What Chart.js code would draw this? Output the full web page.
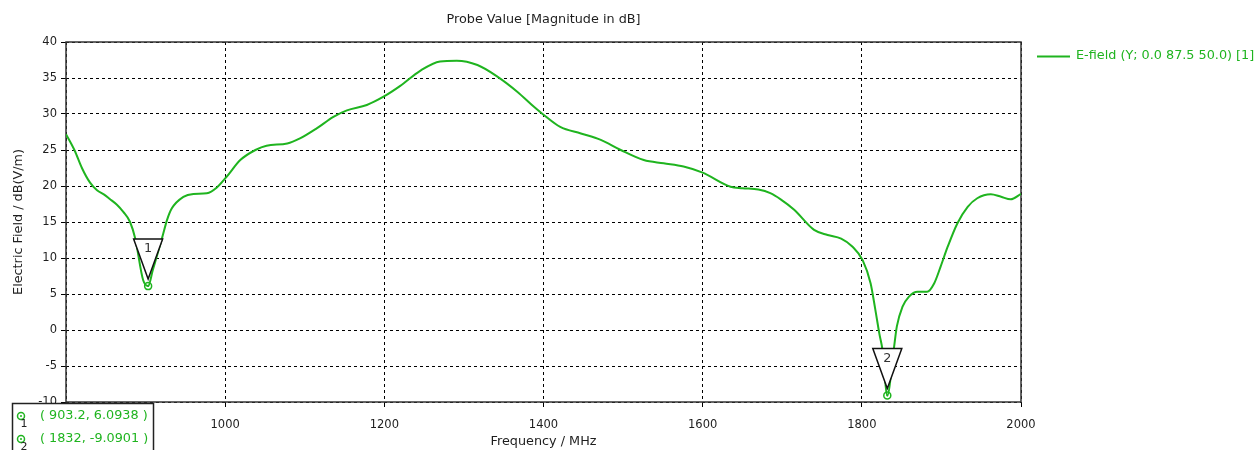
<!DOCTYPE html>
<html><head><meta charset="utf-8">
<script src="https://cdn.jsdelivr.net/npm/chart.js@4/dist/chart.umd.min.js"></script>
<style>html,body{margin:0;padding:0;background:#fff;} canvas{display:block;}</style>
</head><body>
<canvas id="c" width="1259" height="450"></canvas>
<script>
const chartTitle = 'Probe Value [Magnitude in dB]';
const seriesLabel = 'E-field (Y; 0.0 87.5 50.0) [1]';
const xAxisTitle = 'Frequency / MHz';
const yAxisTitle = 'Electric Field / dB(V/m)';

const freqMHz = [800, 811, 820, 830, 839, 848, 855, 864, 872, 880.5, 887, 897, 903.2, 909, 921, 927, 933, 947.5, 960, 977, 989.6,
  1002, 1019, 1038, 1052, 1078, 1094, 1115, 1136, 1153, 1178, 1199, 1220, 1245, 1270, 1291, 1317, 1342, 1367, 1388, 1400,
  1421, 1447, 1472, 1497, 1526, 1551, 1576, 1600, 1635, 1650, 1670, 1685, 1698, 1715, 1740, 1757, 1774, 1788, 1801,
  1811, 1817, 1822, 1826, 1832, 1840, 1844, 1851, 1859, 1870, 1882, 1891, 1899, 1908, 1920, 1933, 1945, 1962, 1975, 1987, 2000];
const efieldDb = [27.2, 24.9, 22.5, 20.5, 19.4, 18.8, 18.2, 17.4, 16.4, 15.0, 12.7, 6.9, 6.0938, 8.3, 12.9, 15.3, 16.9, 18.5, 18.9, 19.0, 19.8,
  21.3, 23.6, 25.0, 25.6, 25.9, 26.6, 28.0, 29.6, 30.5, 31.25, 32.4, 33.9, 36.0, 37.3, 37.4, 36.8, 35.2, 33.1, 31.0, 29.9,
  28.2, 27.3, 26.4, 25.0, 23.6, 23.15, 22.7, 21.85, 19.9, 19.7, 19.5, 19.0, 18.15, 16.7, 13.9, 13.2, 12.7, 11.6, 9.7,
  6.5, 2.8, -0.5, -2.8, -9.0901, -2.8, 0.5, 3.2, 4.6, 5.3, 5.3, 6.5, 8.8, 11.6, 14.8, 17.1, 18.3, 18.85, 18.5, 18.15, 18.9];

const markerIds = ['1', '2'];
const markerFreq = [903.2, 1832];
const markerVal = [6.0938, -9.0901];
const markerText = ['( 903.2, 6.0938 )', '( 1832, -9.0901 )'];

const xTicks = [800, 1000, 1200, 1400, 1600, 1800, 2000];
const yTicks = [-10, -5, 0, 5, 10, 15, 20, 25, 30, 35, 40];

const FONT = '"DejaVu Sans", sans-serif';
const TXT_SIZE = 12.8;
const TICK_SIZE = 11.5;
const GREEN = '#1fb41f';
const TEXT = '#1e1e1e';

const overlay = {
  id: 'overlay',
  beforeDatasetsDraw(chart) {
    const {ctx, chartArea: a} = chart;
    ctx.save();
    ctx.strokeStyle = '#333';
    ctx.lineWidth = 1.5;
    ctx.setLineDash([]);
    ctx.strokeRect(a.left, a.top, a.right - a.left, a.bottom - a.top);
    ctx.restore();
  },
  afterDatasetsDraw(chart) {
    const {ctx} = chart;
    const xs = chart.scales.x, ys = chart.scales.y;
    ctx.save();
    markerIds.forEach((id, i) => {
      const px = xs.getPixelForValue(markerFreq[i]);
      const py = ys.getPixelForValue(markerVal[i]);
      ctx.beginPath();
      ctx.moveTo(px - 14.5, py - 47);
      ctx.lineTo(px + 14.5, py - 47);
      ctx.lineTo(px, py - 7);
      ctx.closePath();
      ctx.fillStyle = '#fff';
      ctx.fill();
      ctx.strokeStyle = '#111';
      ctx.lineWidth = 1.5;
      ctx.stroke();
      ctx.fillStyle = '#333';
      ctx.font = TXT_SIZE + 'px ' + FONT;
      ctx.textAlign = 'center';
      ctx.textBaseline = 'middle';
      ctx.fillText(id, px, py - 37);
      ctx.beginPath();
      ctx.arc(px, py, 3.5, 0, Math.PI * 2);
      ctx.strokeStyle = GREEN;
      ctx.lineWidth = 1.5;
      ctx.stroke();
      ctx.beginPath();
      ctx.arc(px, py, 1, 0, Math.PI * 2);
      ctx.fillStyle = GREEN;
      ctx.fill();
    });
    ctx.restore();
  },
  afterDraw(chart) {
    const {ctx, chartArea: a} = chart;
    ctx.save();
    ctx.fillStyle = TEXT;
    ctx.font = TXT_SIZE + 'px ' + FONT;
    ctx.textAlign = 'center';
    ctx.textBaseline = 'middle';
    ctx.fillText(chartTitle, (a.left + a.right) / 2, 19.5);
    ctx.strokeStyle = GREEN;
    ctx.lineWidth = 2;
    ctx.beginPath();
    ctx.moveTo(a.right + 16, 56.5);
    ctx.lineTo(a.right + 49, 56.5);
    ctx.stroke();
    ctx.fillStyle = GREEN;
    ctx.textAlign = 'left';
    ctx.fillText(seriesLabel, a.right + 55, 56);
    ctx.fillStyle = '#fff';
    ctx.fillRect(12, 403, 141, 60);
    ctx.strokeStyle = '#222';
    ctx.lineWidth = 1.5;
    ctx.strokeRect(12.5, 403.5, 141, 60);
    markerIds.forEach((id, i) => {
      const cy = 416 + i * 23;
      ctx.beginPath();
      ctx.arc(21, cy, 3.5, 0, Math.PI * 2);
      ctx.strokeStyle = GREEN;
      ctx.lineWidth = 1.5;
      ctx.stroke();
      ctx.beginPath();
      ctx.arc(21, cy, 1, 0, Math.PI * 2);
      ctx.fillStyle = GREEN;
      ctx.fill();
      ctx.fillStyle = '#222';
      ctx.font = '11px ' + FONT;
      ctx.textAlign = 'center';
      ctx.fillText(id, 24, cy + 8);
      ctx.fillStyle = GREEN;
      ctx.font = TXT_SIZE + 'px ' + FONT;
      ctx.textAlign = 'left';
      ctx.fillText(markerText[i], 40, cy);
    });
    ctx.restore();
  }
};

new Chart(document.getElementById('c'), {
  type: 'line',
  data: {
    datasets: [{
      label: seriesLabel,
      data: freqMHz.map((f, i) => ({x: f, y: efieldDb[i]})),
      borderColor: GREEN,
      borderWidth: 2,
      pointRadius: 0,
      fill: false,
      cubicInterpolationMode: 'monotone'
    }]
  },
  options: {
    responsive: false,
    animation: false,
    events: [],
    layout: {padding: {top: 42, right: 238, left: 0, bottom: 0}},
    plugins: {legend: {display: false}, title: {display: false}, tooltip: {enabled: false}},
    scales: {
      x: {
        type: 'linear', min: 800, max: 2000,
        afterBuildTicks: s => { s.ticks = xTicks.map(v => ({value: v})); },
        afterFit: s => { s.height = 48; },
        grid: {color: '#000', lineWidth: 1, drawTicks: true, tickLength: 5, tickColor: '#000', tickBorderDash: []},
        border: {display: false, dash: [3, 3]},
        ticks: {color: TEXT, font: {family: FONT, size: TICK_SIZE}, padding: 11, maxRotation: 0, autoSkip: false,
                callback: v => String(v)},
        title: {display: true, text: xAxisTitle, color: TEXT, font: {family: FONT, size: TXT_SIZE}, padding: {top: 0, bottom: 1}}
      },
      y: {
        min: -10, max: 40,
        afterBuildTicks: s => { s.ticks = yTicks.map(v => ({value: v})); },
        afterFit: s => { s.width = 66; },
        grid: {color: '#000', lineWidth: 1, drawTicks: true, tickLength: 5, tickColor: '#000', tickBorderDash: []},
        border: {display: false, dash: [3, 3]},
        ticks: {color: TEXT, font: {family: FONT, size: TICK_SIZE}, padding: 4, autoSkip: false,
                callback: v => String(v)},
        title: {display: true, text: yAxisTitle, color: TEXT, font: {family: FONT, size: TXT_SIZE}, padding: {top: 10.5, bottom: 0}}
      }
    }
  },
  plugins: [overlay]
});
</script>
</body></html>
